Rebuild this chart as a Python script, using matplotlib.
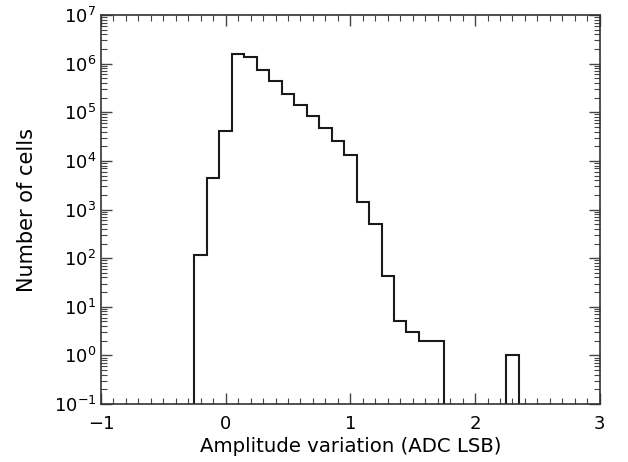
import numpy as np
import matplotlib
matplotlib.use("Agg")
import matplotlib.pyplot as plt
from matplotlib.ticker import MultipleLocator, LogLocator

# Histogram data (bin width 0.1 ADC LSB, bins centred on -0.2 ... 2.3)
bin_centres = [-0.2, -0.1, 0.0, 0.1, 0.2, 0.3, 0.4, 0.5, 0.6, 0.7, 0.8, 0.9,
               1.0, 1.1, 1.2, 1.3, 1.4, 1.5, 1.6, 1.7, 1.8, 1.9, 2.0, 2.1,
               2.2, 2.3]
counts = [115, 4400, 41000, 1.6e6, 1.4e6, 7.4e5, 4.3e5, 2.4e5, 1.43e5, 8.2e4,
          4.7e4, 2.6e4, 1.35e4, 1450, 500, 43, 5, 3, 2, 2, 0, 0, 0, 0, 0, 1]
bin_width = 0.1

x_label = "Amplitude variation (ADC LSB)"
y_label = "Number of cells"

plt.rcParams["font.family"] = "DejaVu Sans"

fig = plt.figure(figsize=(6.28, 4.62), dpi=100)
ax = fig.add_axes([0.1608, 0.1255, 0.7942, 0.842])

centres = np.array(bin_centres)
edges = np.append(centres - bin_width / 2, centres[-1] + bin_width / 2)
vals = np.array(counts, dtype=float)
vals[vals <= 0] = 1e-3  # empty bins drop below the axis floor

ax.stairs(vals, edges, baseline=1e-3, color="#1a1a1a", linewidth=1.5)

ax.set_yscale("log")
ax.set_xlim(-1, 3)
ax.set_ylim(1e-1, 1e7)

ax.xaxis.set_major_locator(MultipleLocator(1))
ax.xaxis.set_minor_locator(MultipleLocator(0.1))
ax.yaxis.set_major_locator(LogLocator(base=10, numticks=20))
ax.yaxis.set_minor_locator(LogLocator(base=10, subs=np.arange(2, 10), numticks=20))

ax.tick_params(which="both", direction="in", top=True, right=True,
               labelsize=13, color="#444444")
ax.tick_params(which="major", length=8, width=1)
ax.tick_params(which="minor", length=4, width=0.8)
ax.tick_params(axis="x", pad=8)

for s in ax.spines.values():
    s.set_linewidth(1.2)
    s.set_color("#333333")

ax.set_xlabel(x_label, fontsize=14.2, labelpad=3)
ax.set_ylabel(y_label, fontsize=15, labelpad=12)

fig.savefig("out.png", dpi=100)
plt.close(fig)
